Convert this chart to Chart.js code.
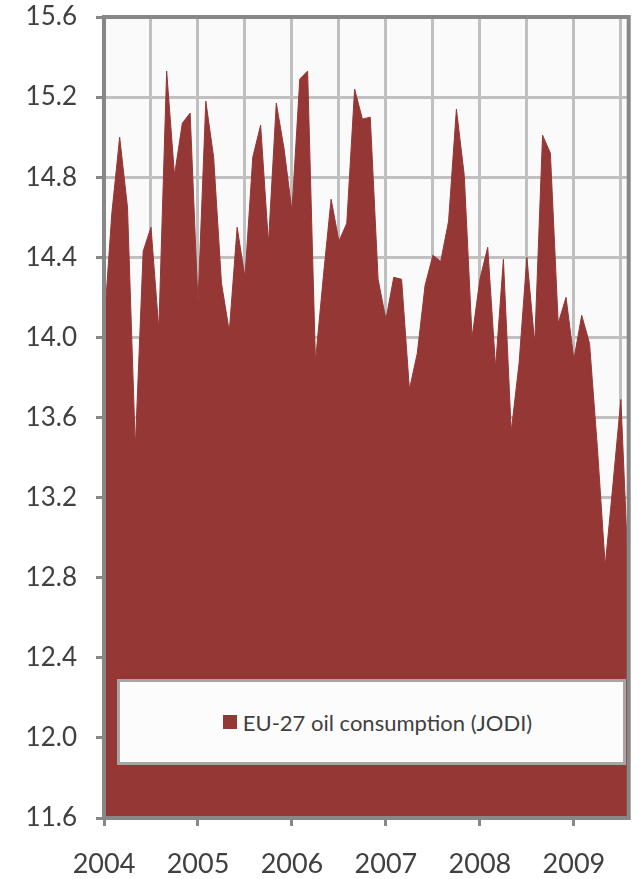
<!DOCTYPE html>
<html>
<head>
<meta charset="utf-8">
<script src="https://cdn.jsdelivr.net/npm/chart.js@4"></script>
<style>
  body { margin: 0; background: #fff; }
  #wrap { position: relative; width: 643px; height: 879px; }
  #legendBox {
    position: absolute; left: 117px; top: 679px; width: 503px; height: 80px;
    box-sizing: content-box; padding-left: 0;
    border: 3px solid #a6a6a6; background: #fcfcfc;
    display: flex; align-items: center; justify-content: center;
    font-family: Lato, sans-serif; font-size: 22px; color: #404040;
  }
  #legendBox .inner { margin-left: 12px; display: flex; align-items: center; }
  #legendBox span.mark { display: inline-block; width: 14px; height: 14px; background: #953735; margin-right: 6px; }
</style>
</head>
<body>
<div id="wrap">
  <canvas id="myChart"></canvas>
  <div id="legendBox"><div class="inner"><span class="mark"></span><span id="legendText"></span></div></div>
</div>
<script>
// monthly, Jan 2004 .. Aug 2009
var seriesName = 'EU-27 oil consumption (JODI)';
var years = ['2004', '2005', '2006', '2007', '2008', '2009'];
var yTicks = [11.6, 12.0, 12.4, 12.8, 13.2, 13.6, 14.0, 14.4, 14.8, 15.2, 15.6];
var consumption = [
  14.05, 14.62, 15.00, 14.65, 13.45, 14.43, 14.55, 14.04, 15.33, 14.81, 15.07, 15.12,
  14.17, 15.18, 14.90, 14.27, 14.03, 14.55, 14.30, 14.90, 15.06, 14.47, 15.17, 14.94,
  14.63, 15.29, 15.33, 13.88, 14.30, 14.69, 14.48, 14.57, 15.24, 15.09, 15.10, 14.29,
  14.09, 14.30, 14.29, 13.74, 13.92, 14.26, 14.41, 14.38, 14.58, 15.14, 14.81, 14.00,
  14.29, 14.45, 13.85, 14.39, 13.53, 13.87, 14.40, 13.97, 15.01, 14.92, 14.07, 14.20,
  13.89, 14.11, 13.97, 13.45, 12.86, 13.27, 13.69, 12.78
];

document.getElementById('legendText').textContent = seriesName;

var points = consumption.map(function (v, i) { return { x: i, y: v }; });
var lastMonth = consumption.length - 1;

var axisGray = '#878787';
var gridGray = '#c0c0c0';
var txt = '#404040';

// plot background + frame
var plotFrame = {
  id: 'plotFrame',
  beforeDraw: function (chart) {
    var a = chart.chartArea, ctx = chart.ctx;
    ctx.save();
    ctx.fillStyle = '#fafafa';
    ctx.fillRect(a.left, a.top, a.right - a.left, a.bottom - a.top);
    ctx.restore();
  },
  afterDatasetsDraw: function (chart) {
    var a = chart.chartArea, ctx = chart.ctx;
    ctx.save();
    ctx.strokeStyle = axisGray;
    ctx.lineWidth = 4;
    ctx.strokeRect(a.left, a.top, a.right - a.left, a.bottom - a.top);
    ctx.restore();
  }
};

const config = {
  type: 'line',
  data: {
    datasets: [{
      label: seriesName,
      data: points,
      backgroundColor: '#953735',
      borderColor: '#953735',
      borderWidth: 1,
      pointRadius: 0,
      tension: 0,
      fill: 'start'
    }]
  },
  options: {
    responsive: true,
    maintainAspectRatio: false,
    animation: false,
    layout: { padding: { top: 17, right: 9, left: 0, bottom: 0 } },
    plugins: { legend: { display: false }, tooltip: { enabled: false } },
    scales: {
      x: {
        type: 'linear',
        min: 0,
        max: lastMonth,
        afterBuildTicks: function (scale) {
          var t = [];
          for (var m = 0; m <= lastMonth; m += 6) t.push({ value: m });
          scale.ticks = t;
        },
        afterFit: function (scale) { scale.height = 61; },
        border: { display: false },
        grid: {
          color: gridGray,
          lineWidth: 3,
          tickLength: 8,
          tickWidth: 3,
          tickColor: function (c) { return c.tick && c.tick.value % 12 === 0 ? axisGray : 'rgba(0,0,0,0)'; }
        },
        ticks: {
          autoSkip: false,
          maxRotation: 0,
          padding: 22,
          color: txt,
          font: { family: 'Lato', size: 27 },
          callback: function (v) { return v % 12 === 0 ? years[v / 12] : ''; }
        }
      },
      y: {
        min: yTicks[0],
        max: yTicks[yTicks.length - 1],
        afterBuildTicks: function (scale) {
          scale.ticks = yTicks.map(function (v) { return { value: v }; });
        },
        afterFit: function (scale) {
          scale.width = 104;
          scale.paddingTop = 0;
          scale.paddingBottom = 0;
        },
        border: { display: false },
        grid: {
          color: gridGray,
          lineWidth: 3,
          tickLength: 8,
          tickWidth: 3,
          tickColor: axisGray
        },
        ticks: {
          padding: 19,
          color: txt,
          font: { family: 'Lato', size: 26 },
          callback: function (v) { return v.toFixed(1); }
        }
      }
    }
  },
  plugins: [plotFrame]
};

const myChart = new Chart(document.getElementById('myChart'), config);
</script>
</body>
</html>
